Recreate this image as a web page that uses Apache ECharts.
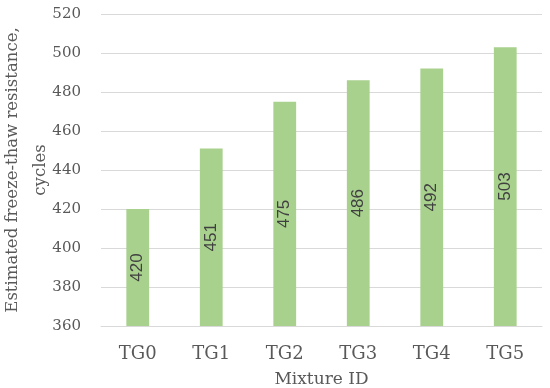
<!DOCTYPE html>
<html><head><meta charset="utf-8">
<script src="https://cdn.jsdelivr.net/npm/echarts@6/dist/echarts.min.js"></script>
<style>html,body{margin:0;padding:0;background:#fff}#c{width:550px;height:388px}</style>
</head><body><div id="c"></div>
<script>
var categories = ['TG0','TG1','TG2','TG3','TG4','TG5'];
var values = [420, 451, 475, 486, 492, 503];
var yTicks = [360, 380, 400, 420, 440, 460, 480, 500, 520];

var serif = '"DejaVu Serif", "Liberation Serif", serif';
var chart = echarts.init(document.getElementById('c'), null, {renderer:'canvas'});
chart.setOption({
  animation: false,
  grid: {left: 101, right: 8, top: 14, bottom: 62, containLabel: false, outerBoundsMode: 'none'},
  xAxis: {
    type: 'category', data: categories,
    name: 'Mixture ID', nameLocation: 'middle', nameGap: 45, nameMoveOverlap: false,
    nameTextStyle: {fontFamily: serif, fontSize: 17, color: '#595959'},
    axisLine: {lineStyle: {color: '#d9d9d9', width: 1}},
    axisTick: {show: false},
    axisLabel: {fontFamily: serif, fontSize: 18, color: '#595959', margin: 19}
  },
  yAxis: {
    type: 'value', min: 360, max: 520, interval: 20,
    name: 'Estimated freeze-thaw resistance,\ncycles', nameLocation: 'middle', nameGap: 46, nameMoveOverlap: false,
    nameTextStyle: {fontFamily: serif, fontSize: 16.5, color: '#595959', lineHeight: 28},
    axisLine: {show: false}, axisTick: {show: false},
    splitLine: {lineStyle: {color: '#d9d9d9', width: 1}},
    axisLabel: {fontFamily: serif, fontSize: 15, color: '#595959', margin: 20}
  },
  series: [{
    type: 'bar', data: values, barWidth: '31%',
    itemStyle: {color: '#a9d18e'},
    label: {show: true, position: 'inside', rotate: 90,
      fontFamily: '"Liberation Sans", Arial, sans-serif', fontSize: 17, color: '#404040'}
  }]
});
</script></body></html>
